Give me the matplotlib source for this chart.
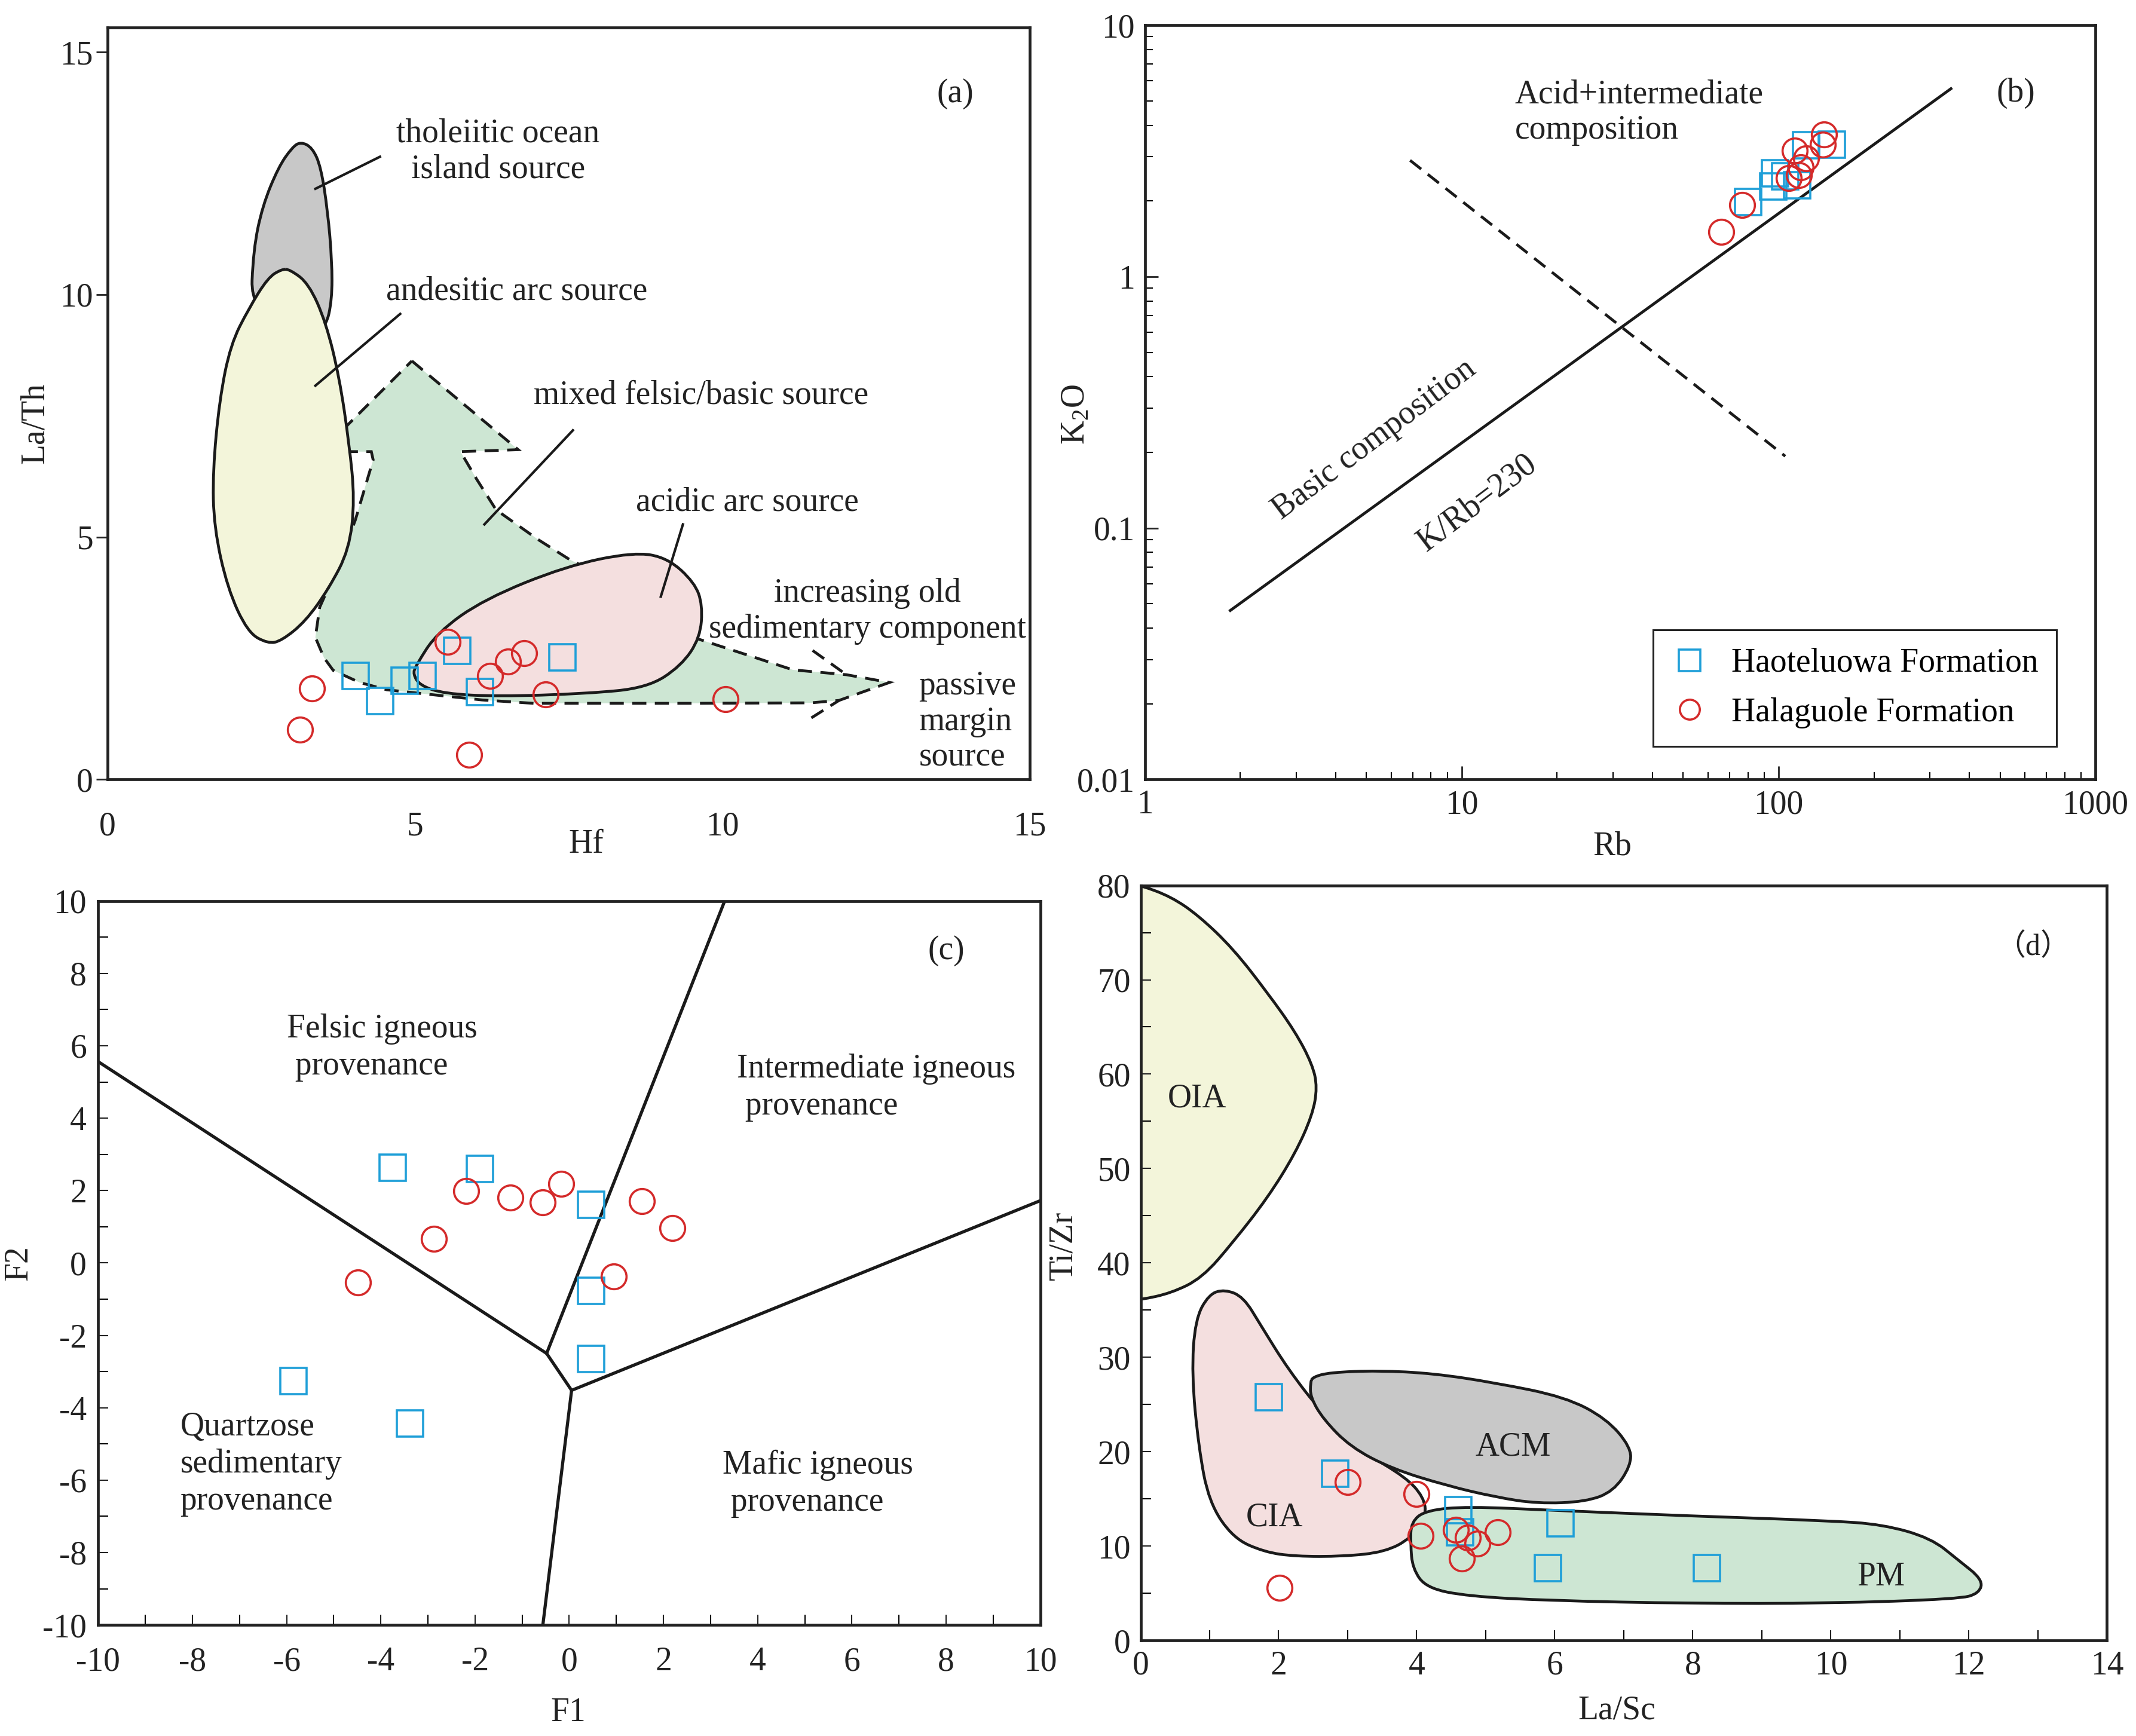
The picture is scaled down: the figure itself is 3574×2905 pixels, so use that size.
import numpy as np
import matplotlib
matplotlib.use('Agg')
import matplotlib.pyplot as plt
from matplotlib.path import Path
from matplotlib.patches import PathPatch, Polygon
from matplotlib.lines import Line2D
from matplotlib.ticker import MultipleLocator

plt.rcParams['font.family'] = ['Liberation Serif', 'DejaVu Serif']
plt.rcParams['mathtext.fontset'] = 'custom'
plt.rcParams['mathtext.rm'] = 'Liberation Serif'
plt.rcParams['mathtext.it'] = 'Liberation Serif:italic'
plt.rcParams['axes.unicode_minus'] = False

#### Colours
BLUE = '#1f9fd8'
RED = '#d42a2a'
GRAY = '#c8c8c8'
YELLOW = '#f3f5da'
GREEN = '#cde6d3'
PINK = '#f4dfdf'
TXT = '#222222'

#### (a) Hf vs La/Th
a_hao_hf = [4.03, 4.43, 4.83, 5.12, 5.69, 6.06, 7.40]
a_hao_lath = [2.13, 1.62, 2.04, 2.14, 2.65, 1.80, 2.52]
a_hal_hf = [3.32, 3.13, 5.53, 6.22, 6.51, 6.78, 7.13, 5.88, 10.05]
a_hal_lath = [1.88, 1.03, 2.84, 2.14, 2.43, 2.60, 1.75, 0.51, 1.66]

gray_a_x = [2.33, 2.37, 2.52, 2.78, 3.00, 3.14, 3.33, 3.47, 3.58, 3.65, 3.65, 3.55, 3.27]
gray_a_y = [9.66, 10.92, 11.83, 12.63, 13.03, 13.15, 13.03, 12.63, 11.72, 10.69, 9.89, 9.32, 9.20]

yellow_a_x = [2.96, 3.27, 3.55, 3.77, 3.93, 4.02, 3.93, 3.60, 3.22, 2.83, 2.61, 2.28, 1.95,
              1.73, 1.71, 1.82, 2.00, 2.30, 2.61, 2.83]
yellow_a_y = [10.52, 10.23, 9.43, 8.29, 6.92, 5.77, 4.74, 3.94, 3.26, 2.86, 2.80, 3.03, 3.94,
              5.20, 6.35, 7.83, 8.97, 9.72, 10.35, 10.52]

green_a_x = [4.95, 6.68, 5.74, 6.00, 6.32, 7.00, 7.51, 8.50, 9.60, 11.15, 12.02, 12.72, 11.90,
             11.44, 9.54, 6.93, 6.09, 5.12, 4.54, 4.10, 3.67, 3.52, 3.38, 3.45, 3.75, 4.03,
             4.32, 4.29, 3.47]
green_a_y = [8.63, 6.80, 6.76, 6.20, 5.56, 4.95, 4.54, 3.90, 2.90, 2.26, 2.16, 2.00, 1.63,
             1.58, 1.57, 1.57, 1.64, 1.77, 1.85, 2.00, 2.25, 2.51, 2.93, 3.55, 4.40, 5.35,
             6.59, 6.76, 6.76]

pink_a_x = [5.01, 5.36, 6.13, 7.46, 8.56, 9.11, 9.55, 9.68, 9.64, 9.33, 8.78, 7.79, 6.35,
            5.47, 5.08, 4.97]
pink_a_y = [2.34, 3.03, 3.72, 4.40, 4.69, 4.57, 4.06, 3.60, 2.92, 2.34, 1.89, 1.77, 1.71,
            1.77, 1.94, 2.17]

barb_up_x = [11.47, 12.02]
barb_up_y = [2.66, 2.16]
barb_dn_x = [11.45, 11.90]
barb_dn_y = [1.27, 1.63]

#### (b) Rb vs K2O
b_hao_rb = [80.2, 96.2, 97.5, 105, 114.6, 122, 147]
b_hao_k2o = [1.98, 2.28, 2.58, 2.51, 2.31, 3.33, 3.35]
b_hal_rb = [65.9, 76.8, 107.7, 112.5, 116, 117.5, 122, 138, 139]
b_hal_k2o = [1.51, 1.93, 2.47, 3.17, 2.54, 2.72, 2.95, 3.35, 3.67]

krb_rb = [1.86, 350]
krb_k2o = [0.047, 5.59]
div_rb = [6.87, 105]
div_k2o = [2.90, 0.193]

#### (c) F1 vs F2
c_hao_f1 = [-3.75, -1.90, 0.46, 0.46, 0.46, -5.85, -3.38]
c_hao_f2 = [2.63, 2.60, 1.61, -0.77, -2.65, -3.26, -4.44]
c_hal_f1 = [-2.19, -1.25, -0.57, -0.17, -2.87, -4.48, 1.54, 2.19, 0.95]
c_hal_f2 = [1.99, 1.81, 1.68, 2.19, 0.66, -0.54, 1.70, 0.96, -0.38]

c_lines = [
    ([-10.0, -0.48], [5.56, -2.50]),
    ([-0.48, 3.30], [-2.50, 10.0]),
    ([-0.48, 0.05], [-2.50, -3.52]),
    ([0.05, 10.0], [-3.52, 1.72]),
    ([0.05, -0.56], [-3.52, -10.0]),
]

#### (d) La/Sc vs Ti/Zr
d_hao_lasc = [1.86, 2.82, 4.60, 4.63, 6.08, 5.90, 8.20]
d_hao_tizr = [25.8, 17.7, 13.8, 11.5, 12.4, 7.7, 7.7]
d_hal_lasc = [3.00, 4.00, 4.06, 4.57, 4.65, 4.74, 4.88, 5.17, 2.01]
d_hal_tizr = [16.8, 15.5, 11.1, 11.7, 8.7, 10.9, 10.3, 11.5, 5.6]

oia_x = [-0.3, 0.0, 0.44, 0.84, 1.34, 1.84, 2.24, 2.49, 2.56, 2.49, 2.24, 1.84, 1.34, 0.89,
         0.44, 0.0, -0.3]
oia_y = [80.5, 80.0, 78.8, 76.8, 73.3, 68.6, 64.5, 61.0, 58.6, 55.7, 51.6, 46.9, 42.2, 38.4,
         36.8, 36.1, 35.9]
cia_x = [1.22, 1.49, 1.74, 2.14, 2.64, 3.24, 3.84, 4.10, 4.14, 3.92, 3.54, 2.94, 2.24, 1.79,
         1.34, 0.99, 0.84, 0.74, 0.79, 0.99]
cia_y = [37.2, 36.4, 33.4, 28.7, 24.0, 19.9, 17.3, 15.2, 13.2, 10.85, 9.38, 8.91, 8.91, 9.38,
         10.85, 14.66, 20.5, 28.2, 34.0, 36.7]
acm_x = [2.49, 2.74, 3.44, 4.24, 5.14, 6.15, 6.75, 7.10, 7.10, 6.85, 6.45, 5.75, 5.14, 4.44,
         3.64, 3.04, 2.64, 2.46, 2.46]
acm_y = [27.9, 28.4, 28.6, 28.3, 27.3, 25.8, 23.5, 20.5, 18.5, 15.8, 14.7, 14.5, 15.2, 16.4,
         18.2, 20.5, 23.5, 25.8, 27.3]
pm_x = [3.92, 4.14, 4.74, 5.95, 7.95, 9.95, 10.75, 11.45, 11.85, 12.20, 12.15, 11.85, 9.95,
        7.95, 5.95, 4.74, 4.14, 3.94, 3.91]
pm_y = [12.6, 13.8, 14.2, 13.8, 13.2, 12.7, 12.3, 10.85, 8.5, 6.45, 4.99, 4.4, 3.93, 3.93,
        4.22, 4.69, 5.57, 7.62, 10.26]

FS = 40
MS_SQ = 32
MS_CI = 30
MEW = 2.6
LW = 3.4


def smooth_patch(xs, ys, **kw):
    pts = np.column_stack([xs, ys])
    mids = (pts + np.roll(pts, -1, axis=0)) / 2
    verts = [mids[-1]]
    codes = [Path.MOVETO]
    for i in range(len(pts)):
        verts += [pts[i], mids[i]]
        codes += [Path.CURVE3, Path.CURVE3]
    return PathPatch(Path(verts, codes), **kw)


def scatter_pts(ax, hx, hy, cx, cy, order=5):
    ax.plot(hx, hy, 's', ms=MS_SQ, mfc='none', mec=BLUE, mew=MEW, zorder=order)
    ax.plot(cx, cy, 'o', ms=MS_CI, mfc='none', mec=RED, mew=MEW, zorder=order + 1)


def frame(ax):
    for s in ax.spines.values():
        s.set_linewidth(3.4)
        s.set_color('#222222')
    ax.tick_params(labelsize=FS, colors=TXT)


def labels(ax, xl, yl, xpos, ypos):
    ax.set_xlabel(xl, fontsize=FS, color=TXT)
    ax.set_ylabel(yl, fontsize=FS, color=TXT)
    ax.xaxis.set_label_coords(*xpos)
    ax.yaxis.set_label_coords(*ypos)


fig = plt.figure(figsize=(35.74, 29.05), dpi=100)

#### Panel (a)
ax = fig.add_axes([0.0504, 0.551, 0.4316, 0.433])
ax.add_patch(Polygon(np.column_stack([green_a_x, green_a_y]), closed=True, fc=GREEN,
                     ec='#1a1a1a', lw=LW, ls=(0, (5, 3)), zorder=1))
ax.add_patch(smooth_patch(gray_a_x, gray_a_y, fc=GRAY, ec='#1a1a1a', lw=LW, zorder=2))
ax.add_patch(smooth_patch(yellow_a_x, yellow_a_y, fc=YELLOW, ec='#1a1a1a', lw=LW, zorder=3))
ax.add_patch(smooth_patch(pink_a_x, pink_a_y, fc=PINK, ec='#1a1a1a', lw=LW, zorder=3))
ax.plot(barb_up_x, barb_up_y, color='#1a1a1a', lw=LW, ls=(0, (5, 3)), zorder=4)
ax.plot(barb_dn_x, barb_dn_y, color='#1a1a1a', lw=LW, ls=(0, (5, 3)), zorder=4)
for (x0, y0, x1, y1) in [(4.43, 12.84, 3.38, 12.18), (4.76, 9.60, 3.38, 8.12),
                         (7.57, 7.20, 6.13, 5.26), (9.36, 5.26, 9.00, 3.77)]:
    ax.plot([x0, x1], [y0, y1], color='#1a1a1a', lw=3, zorder=6)
scatter_pts(ax, a_hao_hf, a_hao_lath, a_hal_hf, a_hal_lath)
ax.text(6.35, 12.95, 'tholeiitic ocean\nisland source', fontsize=FS, ha='center', va='center',
        color=TXT, linespacing=1.2)
ax.text(6.66, 10.06, 'andesitic arc source', fontsize=FS, ha='center', va='center', color=TXT)
ax.text(9.66, 7.92, 'mixed felsic/basic source', fontsize=FS, ha='center', va='center', color=TXT)
ax.text(10.41, 5.72, 'acidic arc source', fontsize=FS, ha='center', va='center', color=TXT)
ax.text(12.36, 3.47, 'increasing old\nsedimentary component', fontsize=FS, ha='center',
        va='center', color=TXT, linespacing=1.2)
ax.text(13.20, 1.19, 'passive\nmargin\nsource', fontsize=FS, ha='left', va='center', color=TXT,
        linespacing=1.2)
ax.text(13.79, 14.14, '(a)', fontsize=FS, ha='center', va='center', color=TXT)
ax.set_xlim(0, 15)
ax.set_ylim(0, 15.5)
ax.set_xticks([0, 5, 10, 15])
ax.set_yticks([0, 5, 10, 15])
frame(ax)
ax.tick_params(axis='x', length=0, pad=38)
ax.tick_params(axis='y', direction='out', length=14, width=2)
labels(ax, 'Hf', 'La/Th', (0.519, -0.066), (-0.062, 0.474))

#### Panel (b)
ax = fig.add_axes([0.536, 0.551, 0.445, 0.4345])
ax.set_xscale('log')
ax.set_yscale('log')
ax.plot(krb_rb, krb_k2o, color='#1a1a1a', lw=LW, zorder=2)
ax.plot(div_rb, div_k2o, color='#1a1a1a', lw=LW, ls=(0, (5, 3)), zorder=2)
scatter_pts(ax, b_hao_rb, b_hao_k2o, b_hal_rb, b_hal_k2o)
ax.text(14.7, 4.5, 'Acid+intermediate\ncomposition', fontsize=FS, ha='left', va='center',
        color=TXT, linespacing=1.2)
ax.text(5.3, 0.225, 'Basic composition', fontsize=FS, ha='center', va='center', color=TXT,
        rotation=37, rotation_mode='anchor')
ax.text(11.2, 0.126, 'K/Rb=230', fontsize=FS, ha='center', va='center', color=TXT,
        rotation=37, rotation_mode='anchor')
ax.text(560, 5.37, '(b)', fontsize=FS, ha='center', va='center', color=TXT)
ax.set_xlim(1, 1000)
ax.set_ylim(0.01, 10)
ax.set_xticks([1, 10, 100, 1000], labels=['1', '10', '100', '1000'])
ax.set_yticks([0.01, 0.1, 1, 10], labels=['0.01', '0.1', '1', '10'])
frame(ax)
ax.tick_params(which='both', direction='in')
ax.tick_params(which='major', length=16, width=2, pad=12)
ax.tick_params(which='minor', length=9, width=1.5)
labels(ax, 'Rb', r'K$_\mathrm{2}$O', (0.492, -0.068), (-0.056, 0.484))
handles = [Line2D([], [], ls='none', marker='s', ms=MS_SQ - 6, mfc='none', mec=BLUE, mew=MEW),
           Line2D([], [], ls='none', marker='o', ms=MS_CI - 6, mfc='none', mec=RED, mew=MEW)]
leg = ax.legend(handles, ['Haoteluowa Formation', 'Halaguole Formation'], loc='center',
                bbox_to_anchor=(0.539, 0.042, 0.416, 0.158), fontsize=FS, frameon=True,
                fancybox=False, framealpha=1, edgecolor='#222222', handletextpad=0.7,
                labelspacing=0.55, borderpad=0.55, handlelength=1.1)
leg.get_frame().set_linewidth(2.2)

#### Panel (c)
ax = fig.add_axes([0.046, 0.064, 0.441, 0.417])
for lx, ly in c_lines:
    ax.plot(lx, ly, color='#1a1a1a', lw=3.8, solid_capstyle='round', zorder=2)
scatter_pts(ax, c_hao_f1, c_hao_f2, c_hal_f1, c_hal_f2)
ax.text(-6.0, 5.95, 'Felsic igneous\n provenance', fontsize=FS, ha='left', va='center',
        color=TXT, linespacing=1.25)
ax.text(3.56, 4.85, 'Intermediate igneous\n provenance', fontsize=FS, ha='left', va='center',
        color=TXT, linespacing=1.25)
ax.text(-8.26, -5.56, 'Quartzose\nsedimentary\nprovenance', fontsize=FS, ha='left',
        va='center', color=TXT, linespacing=1.25)
ax.text(3.26, -6.1, 'Mafic igneous\n provenance', fontsize=FS, ha='left', va='center',
        color=TXT, linespacing=1.25)
ax.text(8.0, 8.62, '(c)', fontsize=FS, ha='center', va='center', color=TXT)
ax.set_xlim(-10, 10)
ax.set_ylim(-10, 10)
ax.xaxis.set_major_locator(MultipleLocator(2))
ax.xaxis.set_minor_locator(MultipleLocator(1))
ax.yaxis.set_major_locator(MultipleLocator(2))
ax.yaxis.set_minor_locator(MultipleLocator(1))
frame(ax)
ax.tick_params(which='both', direction='in', length=12, width=1.5, pad=14)
ax.tick_params(axis='x', which='both', pad=26)
labels(ax, 'F1', 'F2', (0.499, -0.1), (-0.068, 0.5))

#### Panel (d)
ax = fig.add_axes([0.534, 0.055, 0.4524, 0.435])
ax.add_patch(smooth_patch(oia_x, oia_y, fc=YELLOW, ec='#1a1a1a', lw=LW, zorder=1))
ax.add_patch(smooth_patch(cia_x, cia_y, fc=PINK, ec='#1a1a1a', lw=LW, zorder=1))
ax.add_patch(smooth_patch(acm_x, acm_y, fc=GRAY, ec='#1a1a1a', lw=LW, zorder=1))
ax.add_patch(smooth_patch(pm_x, pm_y, fc=GREEN, ec='#1a1a1a', lw=LW, zorder=1))
scatter_pts(ax, d_hao_lasc, d_hao_tizr, d_hal_lasc, d_hal_tizr)
ax.text(0.82, 57.4, 'OIA', fontsize=FS, ha='center', va='center', color=TXT)
ax.text(1.94, 13.0, 'CIA', fontsize=FS, ha='center', va='center', color=TXT)
ax.text(5.40, 20.5, 'ACM', fontsize=FS, ha='center', va='center', color=TXT)
ax.text(10.73, 6.74, 'PM', fontsize=FS, ha='center', va='center', color=TXT)
ax.text(12.93, 73.4, '（d）', fontsize=FS - 4, ha='center', va='center', color=TXT,
        family=['Liberation Serif', 'Noto Sans CJK SC'])
ax.set_xlim(0, 14)
ax.set_ylim(0, 80)
ax.xaxis.set_major_locator(MultipleLocator(2))
ax.xaxis.set_minor_locator(MultipleLocator(1))
ax.yaxis.set_major_locator(MultipleLocator(10))
ax.yaxis.set_minor_locator(MultipleLocator(5))
frame(ax)
ax.tick_params(which='both', direction='in', length=12, width=1.5, pad=12)
labels(ax, 'La/Sc', 'Ti/Zr', (0.493, -0.072), (-0.064, 0.523))

fig.savefig('out.png', dpi=100)
